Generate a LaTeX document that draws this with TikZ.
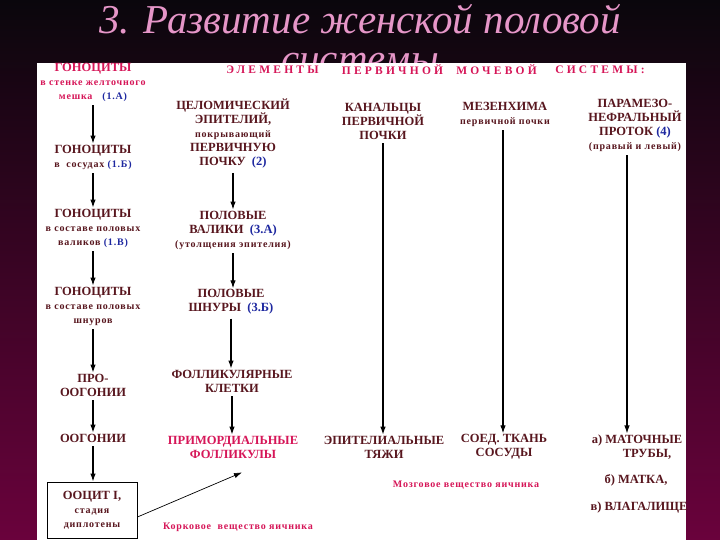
\documentclass[tikz,border=0pt]{standalone}
\usepackage{fontspec}
\setmainfont{Liberation Serif}
\usepackage{xcolor}
\usetikzlibrary{arrows.meta, positioning}
\definecolor{bgtop}{RGB}{10,6,12}
\definecolor{bgbot}{RGB}{106,2,60}
\definecolor{ttlpink}{RGB}{230,150,200}
\definecolor{crim}{RGB}{214,22,88}
\definecolor{dred}{RGB}{88,22,30}
\definecolor{nblue}{RGB}{30,40,160}
\newcommand{\nm}[1]{\textcolor{nblue}{#1}}
\newcommand{\sm}[1]{{\fontsize{10}{13}\selectfont\addfontfeatures{LetterSpace=8}#1}}

\tikzset{
  blk/.style={font=\bfseries\fontsize{12.5}{14}\selectfont, text=dred, align=center, inner sep=1pt},
  hdr/.style={font=\bfseries\fontsize{11.5}{11}\selectfont\addfontfeatures{LetterSpace=28}, text=crim, inner sep=0pt},
  arr/.style={-{Latex[length=8pt,width=5.5pt]}, line width=1.1pt, black, shorten <=3pt},
}

\begin{document}
\begin{tikzpicture}[x=1pt,y=-1pt]
  \useasboundingbox (0,0) rectangle (720,540);
  \shade[top color=bgtop, bottom color=bgbot] (0,0) rectangle (720,540);
  % title, partly hidden by the panel
  \node[font=\fontsize{41}{41}\selectfont\itshape, text=ttlpink, anchor=base] (ttl1) at (360,34) {3. Развитие женской половой};
  \node[font=\fontsize{41}{41}\selectfont\itshape, text=ttlpink, anchor=base] (ttl2) at (360,73) {системы};
  \fill[white] (37,63) rectangle (686,540);
  \foreach \w/\x [count=\i] in {ЭЛЕМЕНТЫ/272.5, ПЕРВИЧНОЙ/392.5, МОЧЕВОЙ/496.5, СИСТЕМЫ:/600}
    \node[hdr] (hd\i) at (\x,70) {\w};

  % gonocytes
  \node[blk, text=crim] (gon1) at (93,82) {ГОНОЦИТЫ\\ \sm{в стенке желточного}\\ \sm{мешка\quad\nm{(1.А)}}};
  \node[blk] (gon2) at (93,157) {ГОНОЦИТЫ\\ \sm{в\ \ сосудах \nm{(1.Б)}}};
  \node[blk] (gon3) at (93,228) {ГОНОЦИТЫ\\ \sm{в составе половых}\\ \sm{валиков \nm{(1.В)}}};
  \node[blk] (gon4) at (93,306) {ГОНОЦИТЫ\\ \sm{в составе половых}\\ \sm{шнуров}};
  \node[blk] (proog) at (93,385) {ПРО-\\ООГОНИИ};
  \node[blk] (oog) at (93,438) {ООГОНИИ};
  \node[blk, draw=black, line width=0.9pt, minimum width=90pt, minimum height=56pt] (ooc) at (92,510) {ООЦИТ I,\\ \sm{стадия}\\ \sm{диплотены}};

  % coelomic epithelium
  \node[blk] (celo) at (233,134) {ЦЕЛОМИЧЕСКИЙ\\ЭПИТЕЛИЙ,\\ \sm{покрывающий}\\ПЕРВИЧНУЮ\\ПОЧКУ\ \ \nm{(2)}};
  \node[blk] (val) at (233,230) {ПОЛОВЫЕ\\ВАЛИКИ\ \ \nm{(3.А)}\\ \sm{(утолщения эпителия)}};
  \node[blk] (shn) at (231,302) {ПОЛОВЫЕ\\ШНУРЫ\ \ \nm{(3.Б)}};
  \node[blk] (foll) at (232,381) {ФОЛЛИКУЛЯРНЫЕ\\КЛЕТКИ};
  \node[blk, text=crim] (prim) at (233,447) {ПРИМОРДИАЛЬНЫЕ\\ФОЛЛИКУЛЫ};
  \node[blk, text=crim] (kork) at (238,527) {\sm{Корковое\ \ вещество яичника}};

  % primary kidney
  \node[blk] (kan) at (383,121) {КАНАЛЬЦЫ\\ПЕРВИЧНОЙ\\ПОЧКИ};
  \node[blk] (epit) at (384,447) {ЭПИТЕЛИАЛЬНЫЕ\\ТЯЖИ};
  \node[blk] (mez) at (505,114) {МЕЗЕНХИМА\\ \sm{первичной почки}};
  \node[blk] (soed) at (504,447) {СОЕД. ТКАНЬ\\СОСУДЫ};
  \node[blk, text=crim] (mozg) at (466,485) {\sm{Мозговое вещество яичника}};

  % paramesonephric duct
  \node[blk] (par) at (635,125) {ПАРАМЕЗО-\\НЕФРАЛЬНЫЙ\\ПРОТОК \nm{(4)}\\ \sm{(правый и левый)}};
  \node[blk] (uter) at (637,447) {а) МАТОЧНЫЕ\\\hspace*{20pt}ТРУБЫ,};
  \node[blk] (matka) at (636,480) {б) МАТКА,};
  \node[blk] (vlag) at (639,507) {в) ВЛАГАЛИЩЕ};

  \foreach \a/\b in {gon1/gon2, gon2/gon3, gon3/gon4, gon4/proog, proog/oog, oog/ooc,
                     celo/val, val/shn, shn/foll, foll/prim, kan/epit}
    \draw[arr] (\a.south) -- (\a.south |- \b.north);
  \draw[arr] ([xshift=-2pt]mez.south) -- ([xshift=-2pt]mez.south |- soed.north);
  \draw[arr] ([xshift=-8pt]par.south) -- ([xshift=-8pt]par.south |- uter.north);
  \draw[arr, line width=0.7pt, shorten <=0pt] ([yshift=-7pt]ooc.east) -- ([xshift=9pt,yshift=-13pt]prim.south);
\end{tikzpicture}
\end{document}
